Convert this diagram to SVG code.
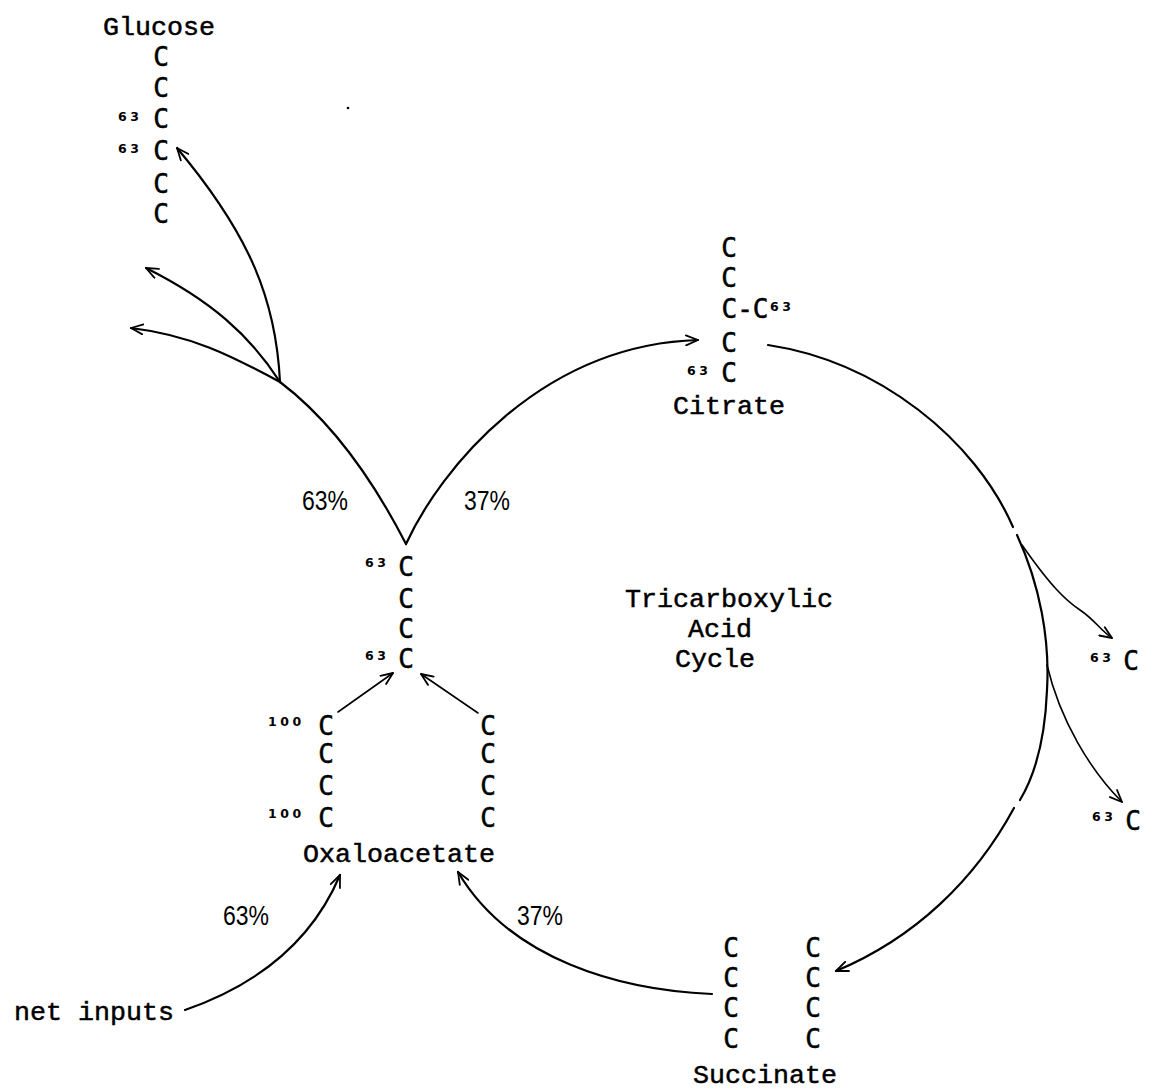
<svg xmlns="http://www.w3.org/2000/svg" width="1157" height="1089" viewBox="0 0 1157 1089">
  <style>
    .name { font-family: "Liberation Mono", "DejaVu Sans Mono", monospace; font-size: 26.67px; fill: #000; stroke: #000; stroke-width: 0.5; }
    .c { font-family: "DejaVu Sans Mono", "Liberation Mono", monospace; font-size: 26px; fill: #000; text-anchor: middle; stroke: #000; stroke-width: 0.5; }
    .sup { font-family: "DejaVu Sans", sans-serif; font-weight: bold; font-size: 12.5px; letter-spacing: 3.5px; fill: #000; }
    .pct { font-family: "Liberation Sans", Arial, sans-serif; font-size: 27px; fill: #000; }
    .line { fill: none; stroke: #000; stroke-width: 2.2; stroke-linecap: round; }
    .thin { fill: none; stroke: #000; stroke-width: 1.6; stroke-linecap: round; }
  </style>
  <defs>
    <marker id="arrow" viewBox="0 0 14 12" refX="13" refY="6" markerWidth="14" markerHeight="12" markerUnits="userSpaceOnUse" orient="auto">
      <path d="M1,1 L13,6 L1,11" fill="none" stroke="#000" stroke-width="1.8" stroke-linecap="round" stroke-linejoin="round"/>
    </marker>
  </defs>
  <rect width="1157" height="1089" fill="#fff"/>

  <!-- Glucose -->
  <g id="glucose">
    <text class="name" x="103" y="35">Glucose</text>
    <text class="c" x="161" y="66">C</text>
    <text class="c" x="161" y="97">C</text>
    <text class="c" x="161" y="128">C</text>
    <text class="c" x="161" y="160">C</text>
    <text class="c" x="161" y="193">C</text>
    <text class="c" x="161" y="223">C</text>
    <text class="sup" x="118" y="121">63</text>
    <text class="sup" x="118" y="153">63</text>
  </g>

  <!-- Citrate -->
  <g id="citrate">
    <text class="c" x="729" y="257">C</text>
    <text class="c" x="729" y="287">C</text>
    <text class="c" x="745" y="318">C-C</text>
    <text class="sup" x="770" y="311">63</text>
    <text class="c" x="729" y="352">C</text>
    <text class="c" x="729" y="382">C</text>
    <text class="sup" x="687" y="375">63</text>
    <text class="name" x="673" y="414">Citrate</text>
  </g>

  <!-- Three-carbon intermediate -->
  <g id="pyruvate">
    <text class="c" x="406" y="576">C</text>
    <text class="c" x="406" y="608">C</text>
    <text class="c" x="406" y="638">C</text>
    <text class="c" x="406" y="668">C</text>
    <text class="sup" x="365" y="567">63</text>
    <text class="sup" x="365" y="660">63</text>
  </g>

  <!-- Oxaloacetate -->
  <g id="oxaloacetate">
    <text class="c" x="326" y="735">C</text>
    <text class="c" x="326" y="763">C</text>
    <text class="c" x="326" y="795">C</text>
    <text class="c" x="326" y="827">C</text>
    <text class="sup" x="268" y="726">100</text>
    <text class="sup" x="268" y="818">100</text>
    <text class="c" x="488" y="735">C</text>
    <text class="c" x="488" y="763">C</text>
    <text class="c" x="488" y="795">C</text>
    <text class="c" x="488" y="827">C</text>
    <text class="name" x="303" y="862">Oxaloacetate</text>
  </g>

  <!-- Succinate -->
  <g id="succinate">
    <text class="c" x="731" y="957">C</text>
    <text class="c" x="731" y="987">C</text>
    <text class="c" x="731" y="1017">C</text>
    <text class="c" x="731" y="1048">C</text>
    <text class="c" x="813" y="957">C</text>
    <text class="c" x="813" y="987">C</text>
    <text class="c" x="813" y="1017">C</text>
    <text class="c" x="813" y="1048">C</text>
    <text class="name" x="693" y="1083">Succinate</text>
  </g>

  <!-- Released carbons -->
  <g id="co2-a">
    <text class="sup" x="1090" y="662">63</text>
    <text class="c" x="1131" y="670">C</text>
  </g>
  <g id="co2-b">
    <text class="sup" x="1092" y="821">63</text>
    <text class="c" x="1133" y="830">C</text>
  </g>

  <!-- Cycle label -->
  <g id="cycle-label">
    <text class="name" x="625" y="607">Tricarboxylic</text>
    <text class="name" x="688" y="637">Acid</text>
    <text class="name" x="675" y="667">Cycle</text>
  </g>

  <g id="net-inputs">
    <text class="name" x="14" y="1020">net inputs</text>
  </g>

  <!-- Flux percentages -->
  <g id="percentages">
    <text class="pct" x="302" y="510" textLength="46" lengthAdjust="spacingAndGlyphs">63%</text>
    <text class="pct" x="464" y="510" textLength="46" lengthAdjust="spacingAndGlyphs">37%</text>
    <text class="pct" x="223" y="925" textLength="46" lengthAdjust="spacingAndGlyphs">63%</text>
    <text class="pct" x="517" y="925" textLength="46" lengthAdjust="spacingAndGlyphs">37%</text>
  </g>

  <!-- Connectors -->
  <g id="connectors">
    <!-- branch point toward glucose and outputs -->
    <path class="line" d="M406,544 Q350,435 280,382"/>
    <path class="line" d="M280,382 C276,300 250,235 177,148" marker-end="url(#arrow)"/>
    <path class="line" d="M280,382 C250,335 210,300 146,268" marker-end="url(#arrow)"/>
    <path class="line" d="M280,382 C230,355 190,335 131,328" marker-end="url(#arrow)"/>
    <!-- into citrate -->
    <path class="line" d="M406,544 C440,470 540,345 698,340" marker-end="url(#arrow)"/>
    <!-- around the cycle -->
    <path class="line" d="M768,345 C880,362 975,440 1013,527"/>
    <path class="line" d="M1017,535 C1040,585 1050,640 1047,690 C1045,740 1035,775 1020,800"/>
    <path class="line" d="M1014,808 C975,880 915,938 836,971" marker-end="url(#arrow)"/>
    <!-- decarboxylations -->
    <path class="thin" d="M1022,545 C1050,585 1065,600 1080,610 S1100,630 1112,638" marker-end="url(#arrow)"/>
    <path class="thin" d="M1047,665 C1060,720 1090,770 1122,802" marker-end="url(#arrow)"/>
    <!-- succinate back to oxaloacetate -->
    <path class="line" d="M712,994 C620,990 510,960 458,872" marker-end="url(#arrow)"/>
    <!-- net inputs -->
    <path class="line" d="M185,1010 Q300,970 340,875" marker-end="url(#arrow)"/>
    <!-- oxaloacetate into the three-carbon pool -->
    <path class="thin" d="M338,712 L393,673" marker-end="url(#arrow)"/>
    <path class="thin" d="M478,713 L421,674" marker-end="url(#arrow)"/>
  </g>

  <!-- small speck -->
  <circle cx="348" cy="108" r="1.3" fill="#000"/>
</svg>
